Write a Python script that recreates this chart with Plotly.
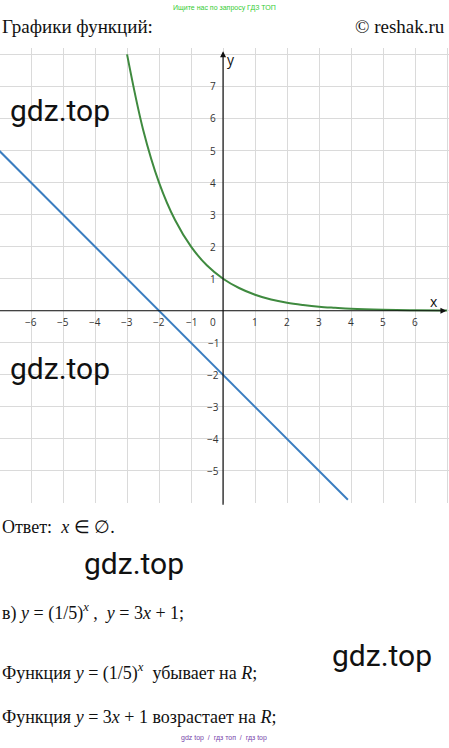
import plotly.graph_objects as go

x_ticks = [-6, -5, -4, -3, -2, -1, 1, 2, 3, 4, 5, 6]
y_ticks = [-5, -4, -3, -2, -1, 1, 2, 3, 4, 5, 6, 7]

# green curve y = (1/2)^x
exp_x = [-3.0, -2.5, -2, -1.5, -1, -0.5, 0, 0.5, 1, 1.5, 2, 2.5, 3, 3.5, 4, 5, 6, 7]
exp_y = [8.0, 5.66, 4.0, 2.83, 2.0, 1.41, 1.0, 0.71, 0.5, 0.35, 0.25, 0.18, 0.125, 0.09, 0.06, 0.03, 0.016, 0.008]

# blue line y = -x - 2
line_x = [-7, 3.9]
line_y = [5, -5.9]

fig = go.Figure()
fig.add_trace(go.Scatter(x=line_x, y=line_y, mode="lines",
                         line=dict(color="#3a7dc0", width=2), hoverinfo="skip"))
fig.add_trace(go.Scatter(x=exp_x, y=exp_y, mode="lines", line_shape="spline",
                         line=dict(color="#3f8a3f", width=2), hoverinfo="skip"))

ann = []
for t in x_ticks:
    ann.append(dict(x=t, y=-0.35, text=("\u2212%d" % -t) if t < 0 else str(t),
                    showarrow=False, font=dict(size=10, color="#333")))
for t in y_ticks:
    ann.append(dict(x=-0.3, y=t, text=("\u2212%d" % -t) if t < 0 else str(t),
                    showarrow=False, font=dict(size=10, color="#333")))
ann.append(dict(x=-0.3, y=-0.35, text="0", showarrow=False, font=dict(size=10, color="#333")))
# axis arrows
ann.append(dict(x=6.98, y=0, ax=-7.1, ay=0, axref="x", ayref="y", text="", showarrow=True,
                arrowhead=2, arrowsize=1, arrowwidth=1.2, arrowcolor="#111"))
ann.append(dict(x=0, y=8.1, ax=0, ay=-6.1, axref="x", ayref="y", text="", showarrow=True,
                arrowhead=2, arrowsize=1, arrowwidth=1.2, arrowcolor="#111"))
ann.append(dict(x=6.6, y=0.3, text="x", showarrow=False, font=dict(size=14, color="#111")))
ann.append(dict(x=0.25, y=7.85, text="y", showarrow=False, font=dict(size=14, color="#111")))

def ptext(px, py, text, size, color="#111", family="Liberation Serif", anchor="left"):
    ann.append(dict(xref="paper", yref="paper", x=px / 449, y=1 - py / 748, text=text,
                    showarrow=False, xanchor=anchor, yanchor="middle",
                    font=dict(size=size, color=color, family=family)))

ptext(224, 8, "Ищите нас по запросу ГДЗ ТОП", 7, "#33cc33", "Liberation Sans", "center")
ptext(0, 26, "Графики функций:", 19)
ptext(447, 26, "© reshak.ru", 19, anchor="right")
for gx, gy in [(8, 110), (8, 368), (82, 563), (330, 655)]:
    ptext(gx, gy, "gdz.top", 30, "#111", "Roboto")
ptext(0, 527, "Ответ:  <i>x</i> ∈ ∅.", 18)
ptext(0, 612, "в) <i>y</i> = (1/5)<sup><i>x</i></sup> ,  <i>y</i> = 3<i>x</i> + 1;", 18)
ptext(0, 672, "Функция <i>y</i> = (1/5)<sup><i>x</i></sup>  убывает на <i>R</i>;", 18)
ptext(0, 717, "Функция <i>y</i> = 3<i>x</i> + 1 возрастает на <i>R</i>;", 18)
ptext(224, 738, "gdz top  /  гдз топ  /  гдз top", 7, "#7744aa", "Liberation Sans", "center")

fig.update_layout(
    width=449, height=748, margin=dict(l=0, r=0, t=0, b=0),
    paper_bgcolor="white", plot_bgcolor="white", showlegend=False,
    annotations=ann,
    xaxis=dict(range=[-6.97, 7.06], dtick=1, tick0=0, showgrid=True, gridcolor="#dadada",
               showticklabels=False, zeroline=False, domain=[0, 1], fixedrange=True),
    yaxis=dict(range=[-6.0, 8.2], dtick=1, tick0=0, showgrid=True, gridcolor="#dadada",
               showticklabels=False, zeroline=False, domain=[1 - 503 / 748, 1 - 48 / 748],
               fixedrange=True),
)
fig.write_html("out.html", config={"displayModeBar": False},
               post_script="document.body.style.margin='0';")
